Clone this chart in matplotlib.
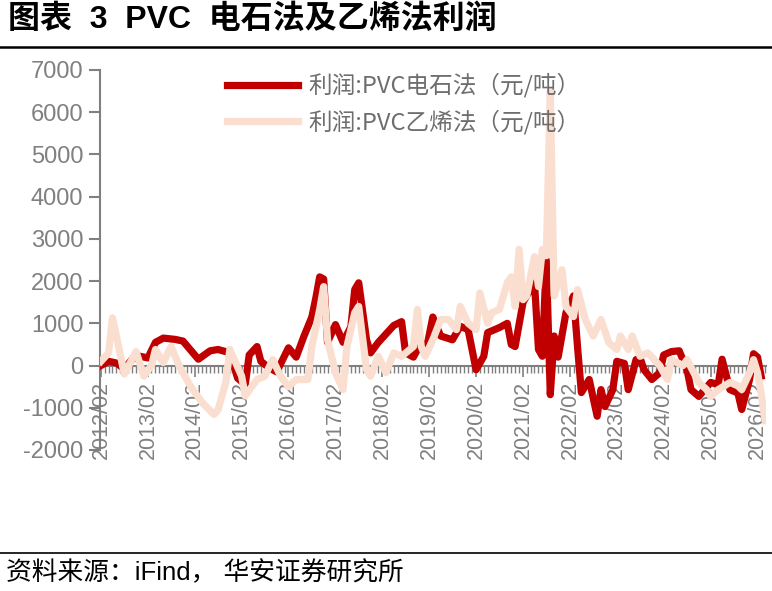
import matplotlib
matplotlib.use("Agg")
import matplotlib.pyplot as plt
import matplotlib.dates as mdates
import pandas as pd

CJK = ['Liberation Sans', 'Noto Sans CJK SC', 'DejaVu Sans']
plt.rcParams['font.family'] = CJK
plt.rcParams['axes.unicode_minus'] = False

# 利润:PVC电石法（元/吨）
carbide_dates = [
    "2012-02", "2012-04", "2012-06", "2012-08", "2012-10", "2012-12",
    "2013-02", "2013-04", "2013-06", "2013-09", "2013-11",
    "2014-02", "2014-03", "2014-06", "2014-08", "2014-10", "2014-11",
    "2015-01", "2015-03", "2015-04", "2015-06", "2015-07", "2015-09", "2015-11",
    "2016-02", "2016-04", "2016-06", "2016-08", "2016-09", "2016-10", "2016-11", "2016-12",
    "2017-02", "2017-04", "2017-06", "2017-07", "2017-08", "2017-10", "2017-11",
    "2018-01", "2018-04", "2018-05", "2018-07", "2018-08", "2018-10", "2018-12",
    "2019-01", "2019-03", "2019-05", "2019-08", "2019-10", "2019-12",
    "2020-02", "2020-04", "2020-05", "2020-08", "2020-10", "2020-11", "2020-12",
    "2021-02", "2021-03", "2021-05", "2021-06", "2021-07", "2021-08", "2021-09",
    "2021-10", "2021-11",
    "2022-01", "2022-03", "2022-04", "2022-05", "2022-07", "2022-09", "2022-10", "2022-11",
    "2023-01", "2023-02", "2023-04", "2023-05", "2023-07", "2023-08", "2023-09", "2023-11",
    "2024-01", "2024-02", "2024-04", "2024-06", "2024-08", "2024-09", "2024-11",
    "2025-02", "2025-04", "2025-05", "2025-07", "2025-09", "2025-10", "2025-12",
    "2026-01", "2026-02", "2026-03",
]
carbide_profit = [
    0, 100, 60, -80, 150, 220,
    180, 550, 650, 620, 580,
    250, 150, 350, 380, 330, 300,
    -300, -450, 250, 450, 100, -50, -150,
    420, 200, 700, 1150, 1600, 2100, 2050, 550,
    970, 550, 920, 1800, 1960, 610, 300,
    550, 850, 950, 1040, 300, 200, 550,
    250, 1150, 700, 610, 930, 850,
    -100, 220, 780, 900, 1000, 500, 450,
    1500, 1650, 1960, 380, 220, 2500, -690,
    700, 200,
    1250, 1650, 450, -640, -330, -1200, -570, -970,
    -570, 100, 50, -570, 140, 180, -100, -330,
    -170, 250, 330, 350, -100, -570, -730,
    -400, -450, 150, -570, -650, -1040, -330,
    280, 200, -250,
]

# 利润:PVC乙烯法（元/吨）
ethylene_dates = [
    "2012-02", "2012-04", "2012-05", "2012-06", "2012-08", "2012-11",
    "2013-01", "2013-03", "2013-04", "2013-06", "2013-08", "2013-10",
    "2014-01", "2014-04", "2014-07", "2014-08", "2014-10", "2014-11",
    "2015-02", "2015-03", "2015-06", "2015-08", "2015-10", "2015-12",
    "2016-02", "2016-04", "2016-07", "2016-08", "2016-10", "2016-11", "2016-12",
    "2017-02", "2017-04", "2017-05", "2017-07", "2017-08", "2017-10", "2017-11",
    "2018-01", "2018-03", "2018-05", "2018-07", "2018-10", "2018-11", "2018-12",
    "2019-01", "2019-03", "2019-05", "2019-07", "2019-09", "2019-10", "2019-12",
    "2020-02", "2020-03", "2020-05", "2020-06", "2020-08", "2020-10", "2020-11", "2020-12",
    "2021-01", "2021-02", "2021-03", "2021-05", "2021-06", "2021-07", "2021-08", "2021-09",
    "2021-10", "2021-12",
    "2022-01", "2022-03", "2022-04", "2022-06", "2022-08", "2022-10", "2022-12",
    "2023-02", "2023-03", "2023-05", "2023-06", "2023-08", "2023-10",
    "2024-01", "2024-03", "2024-04", "2024-07", "2024-08", "2024-11",
    "2025-01", "2025-02", "2025-04", "2025-07", "2025-09", "2025-10", "2025-12",
    "2026-01", "2026-02", "2026-03", "2026-04",
]
ethylene_profit = [
    100, 300, 1130, 700, -200, 330,
    -250, 0, 380, 70, 450, 0,
    -500, -880, -1160, -1050, -400, 380,
    -250, -720, -330, -250, 140, -250,
    -500, -330, -330, 450, 1330, 1870, 610,
    -170, -570, 450, 1250, 1400, -100, -250,
    220, -170, 300, 220, 450, 1330, 450,
    220, 610, 1090, 1090, 850, 1400, 1000,
    850, 1720, 1000, 1250, 1330, 1960, 2100, 1400,
    2750, 1560, 1650, 2580, 1870, 2750, 2600, 6500,
    1650, 2270,
    1400, 1160, 1800, 1090, 700, 1090, 540,
    380, 700, 380, 700, 220, 300,
    0, -330, 140, 0, 140, -400,
    -570, -730, -570, -400, -480, -570, -170,
    140, -170, -650, -1300,
]

c_x = pd.to_datetime(carbide_dates)
e_x = pd.to_datetime(ethylene_dates)

gray = '#808080'
fig = plt.figure(figsize=(7.72, 5.91), dpi=100)
ax = fig.add_axes([100 / 772, 1 - 450 / 591, 666 / 772, 380 / 591])

ax.plot(c_x, carbide_profit, color='#C00000', lw=5.2, solid_joinstyle='round',
        label='利润:PVC电石法（元/吨）', zorder=3)
ax.plot(e_x, ethylene_profit, color='#FADFD0', lw=5.2, solid_joinstyle='round',
        label='利润:PVC乙烯法（元/吨）', zorder=4)

ax.set_ylim(-2000, 7000)
ax.set_yticks(range(-2000, 7001, 1000))
ax.set_xlim(pd.Timestamp('2012-01-25'), pd.Timestamp('2026-04-08'))

ax.xaxis.set_major_locator(mdates.MonthLocator(bymonth=2))
ax.xaxis.set_minor_locator(mdates.MonthLocator())
ax.xaxis.set_major_formatter(mdates.DateFormatter('%Y/%m'))

for s in ['top', 'right']:
    ax.spines[s].set_visible(False)
ax.spines['bottom'].set_position(('data', 0))
for s in ['left', 'bottom']:
    ax.spines[s].set_color(gray)
    ax.spines[s].set_linewidth(1.5)

ax.tick_params(axis='y', colors=gray, labelsize=17, length=8, width=1.5, pad=4)
ax.tick_params(axis='x', which='major', colors=gray, labelsize=15.5, length=8,
               width=1.2, pad=3, labelrotation=90)
ax.tick_params(axis='x', which='minor', colors=gray, length=5, width=1)

leg = ax.legend(loc='upper left', bbox_to_anchor=(206 / 772, 1 - 52 / 591),
                bbox_transform=fig.transFigure, frameon=False,
                prop={'family': ['Noto Sans CJK SC'], 'size': 17},
                handlelength=3.0, handletextpad=0.45, labelspacing=0.5)
for t in leg.get_texts():
    t.set_color('#6E6E6E')

fig.text(8 / 772, 1 - 20 / 591, '图表  3  PVC  电石法及乙烯法利润', fontsize=23,
         fontweight='bold', va='center', ha='left', family=CJK)
fig.add_artist(plt.Line2D([0, 1], [1 - 47 / 591, 1 - 47 / 591], color='black', lw=1.8))
fig.add_artist(plt.Line2D([0, 1], [1 - 553 / 591, 1 - 553 / 591], color='black', lw=1.2))
fig.text(6 / 772, 1 - 573 / 591, '资料来源：iFind， 华安证券研究所', fontsize=18.5,
         va='center', ha='left', family=CJK)

fig.savefig('out.png', dpi=100)
